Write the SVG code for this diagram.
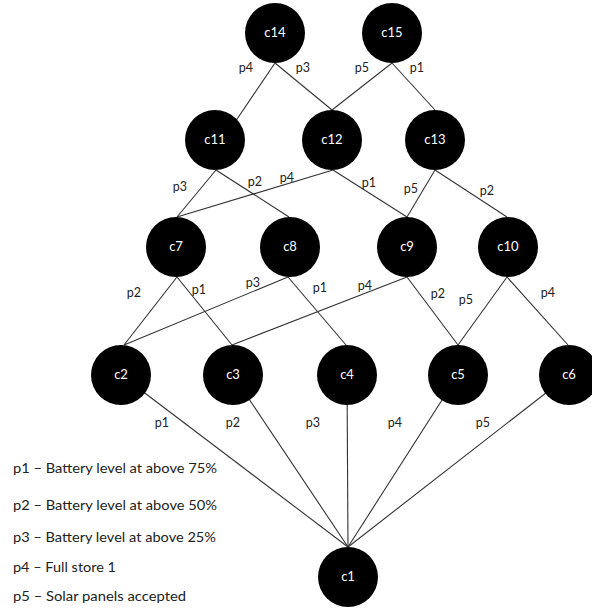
<svg xmlns="http://www.w3.org/2000/svg" width="592" height="610" viewBox="0 0 592 610">
<style>
.edge{stroke:#333;stroke-width:1.1;fill:none}
.node circle{fill:#000}
.node text{fill:#fff;font-family:Lato,"Liberation Sans",sans-serif;font-size:13px;text-anchor:middle}
.lbl{fill:#222;font-family:Lato,"Liberation Sans",sans-serif;font-size:12.5px;text-anchor:middle}
.leg{fill:#222;font-family:Lato,"Liberation Sans",sans-serif;font-size:12.5px}
</style>
<rect width="592" height="610" fill="#fff"/>
<g id="connectors">
<line class="edge" x1="275" y1="63" x2="231" y2="128"/>
<line class="edge" x1="275" y1="63" x2="332" y2="110"/>
<line class="edge" x1="392" y1="63" x2="332" y2="110"/>
<line class="edge" x1="392" y1="63" x2="435" y2="110"/>
<line class="edge" x1="216" y1="170" x2="177" y2="217"/>
<line class="edge" x1="216" y1="170" x2="289" y2="217"/>
<line class="edge" x1="333" y1="170" x2="177" y2="217"/>
<line class="edge" x1="333" y1="170" x2="407" y2="217"/>
<line class="edge" x1="435" y1="170" x2="407" y2="217"/>
<line class="edge" x1="435" y1="170" x2="507" y2="217"/>
<line class="edge" x1="177" y1="277" x2="124" y2="345"/>
<line class="edge" x1="177" y1="277" x2="232" y2="345"/>
<line class="edge" x1="288" y1="277" x2="124" y2="345"/>
<line class="edge" x1="288" y1="277" x2="346" y2="345"/>
<line class="edge" x1="407" y1="277" x2="232" y2="345"/>
<line class="edge" x1="407" y1="277" x2="458" y2="345"/>
<line class="edge" x1="507" y1="277" x2="458" y2="345"/>
<line class="edge" x1="507" y1="277" x2="568" y2="345"/>
<line class="edge" x1="121" y1="375" x2="348" y2="547"/>
<line class="edge" x1="233" y1="375" x2="348" y2="547"/>
<line class="edge" x1="347" y1="375" x2="348" y2="547"/>
<line class="edge" x1="458" y1="375" x2="348" y2="547"/>
<line class="edge" x1="569" y1="375" x2="348" y2="547"/>
</g>
<g id="edge-labels">
<text class="lbl" x="246" y="72">p4</text>
<text class="lbl" x="303" y="72">p3</text>
<text class="lbl" x="362" y="72">p5</text>
<text class="lbl" x="417" y="72">p1</text>
<text class="lbl" x="180" y="191">p3</text>
<text class="lbl" x="255" y="186">p2</text>
<text class="lbl" x="287" y="182">p4</text>
<text class="lbl" x="369" y="187">p1</text>
<text class="lbl" x="411" y="193">p5</text>
<text class="lbl" x="487" y="195">p2</text>
<text class="lbl" x="134" y="297">p2</text>
<text class="lbl" x="199" y="294">p1</text>
<text class="lbl" x="253" y="287">p3</text>
<text class="lbl" x="320" y="292">p1</text>
<text class="lbl" x="365" y="290">p4</text>
<text class="lbl" x="438" y="298">p2</text>
<text class="lbl" x="466" y="304">p5</text>
<text class="lbl" x="548" y="297">p4</text>
<text class="lbl" x="162" y="427">p1</text>
<text class="lbl" x="233" y="427">p2</text>
<text class="lbl" x="313" y="427">p3</text>
<text class="lbl" x="395" y="427">p4</text>
<text class="lbl" x="483" y="427">p5</text>
</g>
<g id="c14" class="node"><circle cx="275" cy="33" r="30"/><text x="275" y="37">c14</text></g>
<g id="c15" class="node"><circle cx="392" cy="33" r="30"/><text x="392" y="37">c15</text></g>
<g id="c11" class="node"><circle cx="215" cy="140" r="30"/><text x="215" y="144">c11</text></g>
<g id="c12" class="node"><circle cx="332" cy="140" r="30"/><text x="332" y="144">c12</text></g>
<g id="c13" class="node"><circle cx="435" cy="140" r="30"/><text x="435" y="144">c13</text></g>
<g id="c7" class="node"><circle cx="176" cy="247" r="30"/><text x="176" y="251">c7</text></g>
<g id="c8" class="node"><circle cx="290" cy="247" r="30"/><text x="290" y="251">c8</text></g>
<g id="c9" class="node"><circle cx="407" cy="247" r="30"/><text x="407" y="251">c9</text></g>
<g id="c10" class="node"><circle cx="508" cy="247" r="30"/><text x="508" y="251">c10</text></g>
<g id="c2" class="node"><circle cx="121" cy="375" r="30"/><text x="121" y="379">c2</text></g>
<g id="c3" class="node"><circle cx="233" cy="375" r="30"/><text x="233" y="379">c3</text></g>
<g id="c4" class="node"><circle cx="347" cy="375" r="30"/><text x="347" y="379">c4</text></g>
<g id="c5" class="node"><circle cx="458" cy="375" r="30"/><text x="458" y="379">c5</text></g>
<g id="c6" class="node"><circle cx="569" cy="375" r="30"/><text x="569" y="379">c6</text></g>
<g id="c1" class="node"><circle cx="348" cy="577" r="30"/><text x="348" y="581">c1</text></g>
<g id="legend">
<text class="leg" x="13" y="473" textLength="204" lengthAdjust="spacingAndGlyphs">p1 – Battery level at above 75%</text>
<text class="leg" x="13" y="510" textLength="204" lengthAdjust="spacingAndGlyphs">p2 – Battery level at above 50%</text>
<text class="leg" x="13" y="542" textLength="203" lengthAdjust="spacingAndGlyphs">p3 – Battery level at above 25%</text>
<text class="leg" x="13" y="572" textLength="103" lengthAdjust="spacingAndGlyphs">p4 – Full store 1</text>
<text class="leg" x="13" y="601" textLength="173" lengthAdjust="spacingAndGlyphs">p5 – Solar panels accepted</text>
</g>
</svg>
